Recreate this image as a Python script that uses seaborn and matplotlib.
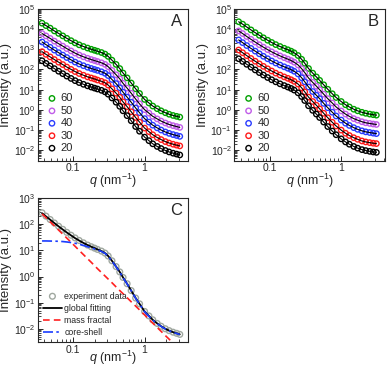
import numpy as np
import pandas as pd
import seaborn as sns
from matplotlib import pyplot as plt
from matplotlib import ticker

sns.set_style('ticks')
plt.rcParams['font.family'] = ['Liberation Sans', 'DejaVu Sans']
plt.rcParams['mathtext.fontset'] = 'custom'
plt.rcParams['mathtext.rm'] = 'Liberation Sans'
plt.rcParams['mathtext.it'] = 'Liberation Sans:italic'
plt.rcParams['xtick.direction'] = 'in'
plt.rcParams['ytick.direction'] = 'in'
plt.rcParams['axes.linewidth'] = 0.8

#%% data
q = [0.037, 0.042, 0.048, 0.055, 0.063, 0.072, 0.082, 0.094, 0.107, 0.122,
     0.14, 0.16, 0.18, 0.2, 0.22, 0.25, 0.28, 0.31, 0.35, 0.4,
     0.45, 0.5, 0.57, 0.65, 0.75, 0.85, 1.0, 1.15, 1.3, 1.5,
     1.7, 1.95, 2.2, 2.5, 2.8, 3.1]

temps = ['60', '50', '40', '30', '20']
colors = ['#00a000', '#c05ce8', '#2a3cff', '#ff1a1a', '#000000']

# panel A
a60 = [19500, 14800, 11100, 8100, 6100, 4600, 3480, 2660, 2070, 1660,
       1370, 1150, 1000, 890, 800, 690, 577, 444, 289, 178,
       111, 67, 38.5, 21.5, 11.1, 6.5, 3.3, 2.2, 1.55, 1.15,
       0.9, 0.725, 0.61, 0.53, 0.48, 0.44]
a50 = [6000, 4600, 3450, 2530, 1890, 1430, 1080, 830, 645, 518,
       425, 357, 310, 276, 248, 214, 179, 138, 90, 55,
       34.5, 20.7, 12, 6.7, 3.45, 2.0, 1.03, 0.69, 0.48, 0.36,
       0.28, 0.225, 0.19, 0.166, 0.15, 0.136]
a40 = [2300, 1700, 1250, 910, 680, 515, 390, 300, 232, 187,
       154, 129, 112, 100, 90, 77, 65, 50, 32, 20,
       12.5, 7.5, 4.3, 2.4, 1.25, 0.73, 0.37, 0.25, 0.175, 0.129,
       0.101, 0.081, 0.069, 0.06, 0.054, 0.049]
a30 = [760, 560, 420, 310, 230, 175, 132, 101, 79, 63,
       52, 43, 38, 34, 30, 26, 22, 17, 11, 6.7,
       4.2, 2.5, 1.45, 0.81, 0.42, 0.25, 0.126, 0.084, 0.059, 0.043,
       0.034, 0.027, 0.023, 0.02, 0.018, 0.0165]
a20 = [270, 200, 150, 110, 82, 62, 47, 36, 28, 22.5,
       18.5, 15.5, 13.5, 12, 10.8, 9.3, 7.8, 6.0, 3.9, 2.4,
       1.5, 0.9, 0.52, 0.29, 0.15, 0.088, 0.045, 0.03, 0.021, 0.0155,
       0.0122, 0.0098, 0.0083, 0.0072, 0.0065, 0.0059]

# panel B
b60 = [23000, 17500, 12600, 9100, 6650, 4900, 3700, 2800, 2170, 1700,
       1370, 1120, 945, 805, 670, 490, 320, 203, 112, 66,
       43, 29, 17.5, 10.5, 6.3, 4.1, 2.6, 1.8, 1.4, 1.08,
       0.9, 0.76, 0.68, 0.62, 0.58, 0.55]
b50 = [8100, 6000, 4300, 3100, 2280, 1680, 1270, 960, 745, 590,
       470, 385, 325, 276, 230, 168, 110, 70, 38, 23,
       15, 10, 6.0, 3.6, 2.2, 1.4, 0.89, 0.62, 0.48, 0.37,
       0.31, 0.26, 0.23, 0.214, 0.2, 0.19]
b40 = [2900, 2130, 1530, 1100, 810, 595, 450, 340, 264, 208,
       166, 136, 115, 98, 82, 60, 39, 24.5, 13.6, 8.1,
       5.3, 3.6, 2.1, 1.28, 0.77, 0.5, 0.315, 0.22, 0.17, 0.132,
       0.109, 0.092, 0.082, 0.076, 0.071, 0.067]
b30 = [920, 675, 485, 350, 256, 189, 143, 108, 84, 66,
       53, 43, 36.5, 31, 26, 19, 12.4, 7.8, 4.3, 2.6,
       1.7, 1.13, 0.68, 0.41, 0.245, 0.16, 0.1, 0.07, 0.054, 0.042,
       0.035, 0.029, 0.026, 0.024, 0.0225, 0.0215]
b20 = [340, 250, 180, 130, 95, 70, 53, 40, 31, 24.5,
       19.5, 16, 13.5, 11.5, 9.6, 7.0, 4.6, 2.9, 1.6, 0.95,
       0.62, 0.42, 0.25, 0.15, 0.09, 0.059, 0.037, 0.026, 0.02, 0.0155,
       0.0128, 0.0108, 0.0097, 0.0089, 0.0083, 0.0079]

# panel C
c_exp = [275, 205, 152, 112, 84, 64, 49, 38, 30, 24,
         19.5, 16, 13.8, 12.2, 10.9, 9.4, 7.9, 6.1, 4.0, 2.4,
         1.5, 0.92, 0.53, 0.29, 0.15, 0.09, 0.046, 0.031, 0.022, 0.016,
         0.0125, 0.01, 0.0085, 0.0074, 0.0067, 0.0061]
c_fit = [265, 200, 150, 111, 83, 63, 48.5, 37.5, 29.5, 23.8,
         19.3, 16, 13.8, 12.2, 10.9, 9.4, 7.9, 6.1, 4.0, 2.4,
         1.5, 0.92, 0.53, 0.29, 0.15, 0.09, 0.046, 0.031, 0.022, 0.016,
         0.0125, 0.01, 0.0085, 0.0074, 0.0067, 0.0061]
c_mass = [250, 178, 124, 87, 60, 42, 29.5, 20.5, 14.4, 10.0,
          6.9, 4.8, 3.5, 2.6, 2.0, 1.42, 1.05, 0.80, 0.58, 0.40,
          0.29, 0.22, 0.155, 0.108, 0.074, 0.053, 0.034, 0.023, 0.0165, 0.0112,
          0.0080, 0.0055, 0.0040, 0.0029, 0.0021, 0.0016]
c_core = [23, 23, 22.8, 22.6, 22.3, 21.8, 21, 20, 18.8, 17.2,
          15.5, 13.8, 12.5, 11.4, 10.4, 9.1, 7.7, 6.0, 3.9, 2.35,
          1.47, 0.9, 0.52, 0.285, 0.147, 0.088, 0.045, 0.030, 0.0215, 0.0157,
          0.0123, 0.0098, 0.0084, 0.0073, 0.0066, 0.006]

#%% figure
fig = plt.figure(figsize=(3.87, 3.69), dpi=100)
ax1 = fig.add_axes([0.097, 0.564, 0.39, 0.412])
ax2 = fig.add_axes([0.605, 0.564, 0.39, 0.412])
ax3 = fig.add_axes([0.097, 0.072, 0.39, 0.391])


def style_axis(ax, ylim, letter, lpad):
    ax.set_xscale('log')
    ax.set_yscale('log')
    ax.set_xlim(0.032, 4.1)
    ax.set_ylim(ylim)
    ax.set_xticks([0.1, 1])
    ax.set_xticklabels(['0.1', '1'])
    ax.xaxis.set_minor_locator(ticker.LogLocator(base=10, subs=np.arange(2, 10), numticks=20))
    ax.xaxis.set_minor_formatter(ticker.NullFormatter())
    ax.yaxis.set_major_locator(ticker.LogLocator(base=10, numticks=20))
    ax.yaxis.set_major_formatter(ticker.LogFormatterMathtext())
    ax.yaxis.set_minor_locator(ticker.LogLocator(base=10, subs=np.arange(2, 10), numticks=20))
    ax.yaxis.set_minor_formatter(ticker.NullFormatter())
    ax.tick_params(which='major', length=3.5, width=0.7, labelsize=7.5, pad=1.5)
    ax.tick_params(which='minor', length=2, width=0.6)
    ax.set_xlabel('$q$ (nm$^{-1}$)', fontsize=9, labelpad=lpad)
    ax.set_ylabel('Intensity (a.u.)', fontsize=9.5, labelpad=1)
    ax.text(0.92, 0.915, letter, fontsize=12, ha='center', va='center', transform=ax.transAxes)


for ax, sets, letter in [(ax1, [a60, a50, a40, a30, a20], 'A'),
                         (ax2, [b60, b50, b40, b30, b20], 'B')]:
    for vals, lab, c in zip(sets, temps, colors):
        sns.scatterplot(x=q, y=vals, marker='o', s=15, color=c, facecolor='none',
                        edgecolor=c, linewidth=1.0, label=lab, ax=ax)
        sns.lineplot(x=q, y=vals, color='k', linewidth=0.8, ax=ax)
    style_axis(ax, (3e-3, 1e5), letter, -1)
    ax.legend(loc='lower left', frameon=False, fontsize=8, handletextpad=0.2,
              handlelength=1.2, labelspacing=0.22, borderaxespad=0.3,
              bbox_to_anchor=(0.0, 0.0))

#%% panel C
sns.scatterplot(x=q, y=c_exp, marker='o', s=17, color='#a0a8a0', facecolor='none',
                edgecolor='#a0a8a0', linewidth=1.0, label='experiment data', ax=ax3)
sns.lineplot(x=q, y=c_fit, color='k', linewidth=1.3, label='global fitting', ax=ax3)
sns.lineplot(x=q, y=c_mass, color='#ff2020', linewidth=1.2, linestyle=(0, (4, 2.5)),
             label='mass fractal', ax=ax3)
sns.lineplot(x=q, y=c_core, color='#1a3cff', linewidth=1.2, linestyle=(0, (6, 2, 1.5, 2)),
             label='core-shell', ax=ax3)
style_axis(ax3, (3e-3, 1e3), 'C', -4)
handles, labels = ax3.get_legend_handles_labels()
order = [labels.index(l) for l in ['experiment data', 'global fitting', 'mass fractal', 'core-shell']]
ax3.legend([handles[i] for i in order], [labels[i] for i in order], loc='lower left',
           frameon=False, fontsize=6.3, handlelength=2.1, handletextpad=0.3,
           labelspacing=0.35, borderaxespad=0.25)

fig.savefig('out.png', dpi=100)
